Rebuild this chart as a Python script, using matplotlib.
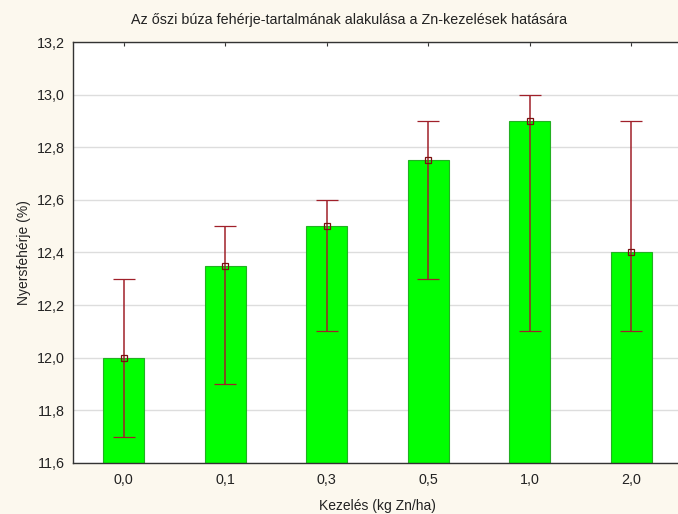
import matplotlib
matplotlib.use("Agg")
import matplotlib.pyplot as plt
import numpy as np

categories = ["0,0", "0,1", "0,3", "0,5", "1,0", "2,0"]
means = [12.0, 12.35, 12.5, 12.75, 12.9, 12.4]
err_low = [11.7, 11.9, 12.1, 12.3, 12.1, 12.1]
err_high = [12.3, 12.5, 12.6, 12.9, 13.0, 12.9]
yticks = [11.6, 11.8, 12.0, 12.2, 12.4, 12.6, 12.8, 13.0, 13.2]

plt.rcParams['font.family'] = ['Liberation Sans', 'DejaVu Sans']
bg = '#FCF8EE'
fig = plt.figure(figsize=(6.78, 5.14), dpi=100, facecolor=bg)
ax = fig.add_axes([73/678, (514-463)/514, (682-73)/678, (463-42)/514])
ax.set_facecolor('white')

x = np.arange(len(categories))
base = 11.6
ax.bar(x, np.array(means) - base, bottom=base, width=0.4, color='#00FF00',
       edgecolor='#22B022', linewidth=0.8, zorder=2)
m = np.array(means)
yerr = np.vstack([m - np.array(err_low), np.array(err_high) - m])
ax.errorbar(x, m, yerr=yerr, fmt='s', color='#8B1A1A', ecolor='#A0202A',
            markersize=5, markerfacecolor='none', markeredgecolor='#7A1010',
            markeredgewidth=0.9, elinewidth=1.1, capsize=7.6, capthick=1.1, zorder=3)

ax.set_xlim(-0.5, 5.5)
ax.set_ylim(11.6, 13.2)
ax.set_yticks(yticks)
ax.set_yticklabels([f"{v:.1f}".replace('.', ',') for v in yticks], fontsize=10.3, color='#222222')
ax.set_xticks(x)
ax.set_xticklabels(categories, fontsize=10.3, color='#222222')
ax.yaxis.grid(True, color='#DDDDDD', linewidth=1, zorder=0)
ax.set_axisbelow(True)
ax.tick_params(axis='x', direction='in', length=3, top=True, bottom=True, pad=7, color='#333333')
ax.tick_params(axis='y', direction='in', length=0, pad=6)
for s in ax.spines.values():
    s.set_color('#333333')
    s.set_linewidth(1)

ax.set_xlabel("Kezelés (kg Zn/ha)", fontsize=10, color='#222222', labelpad=9)
ax.set_ylabel("Nyersfehérje (%)", fontsize=10, color='#222222', labelpad=4)
fig.text(349/678, 1 - 20/514, "Az őszi búza fehérje-tartalmának alakulása a Zn-kezelések hatására",
         ha='center', va='center', fontsize=10.3, color='#222222')

fig.savefig("out.png", dpi=100, facecolor=bg)
